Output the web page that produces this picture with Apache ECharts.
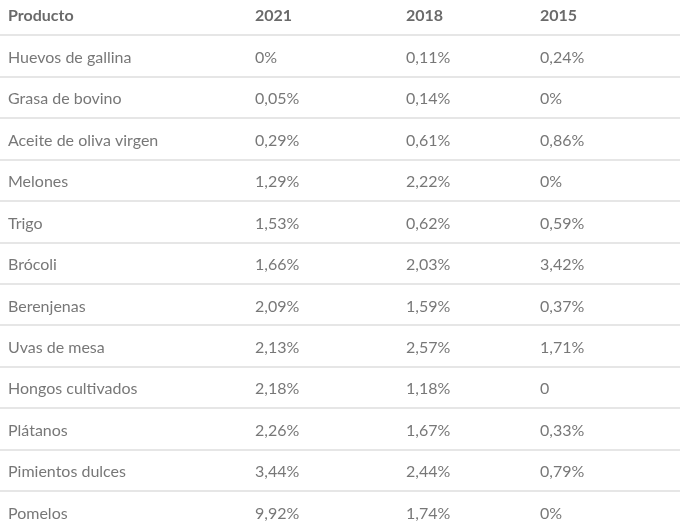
<!DOCTYPE html>
<html><head><meta charset="utf-8">
<script src="https://cdn.jsdelivr.net/npm/echarts@6/dist/echarts.min.js"></script>
<style>html,body{margin:0;padding:0;background:#fff}#c{width:688px;height:524px}</style>
</head><body><div id="c"></div>
<script>
const headers = ["Producto", "2021", "2018", "2015"];
const products = ["Huevos de gallina","Grasa de bovino","Aceite de oliva virgen","Melones","Trigo","Brócoli","Berenjenas","Uvas de mesa","Hongos cultivados","Plátanos","Pimientos dulces","Pomelos"];
const v2021 = ["0%","0,05%","0,29%","1,29%","1,53%","1,66%","2,09%","2,13%","2,18%","2,26%","3,44%","9,92%"];
const v2018 = ["0,11%","0,14%","0,61%","2,22%","0,62%","2,03%","1,59%","2,57%","1,18%","1,67%","2,44%","1,74%"];
const v2015 = ["0,24%","0%","0,86%","0%","0,59%","3,42%","0,37%","1,71%","0","0,33%","0,79%","0%"];

// layout (not data)
const colX = [8, 255, 406, 540];
const rowKeys = ["__header__"].concat(products);
const columns = [products, v2021, v2018, v2015];

const series = columns.map((vals, ci) => ({
  type: 'scatter',
  symbolSize: 0,
  silent: true,
  data: [[colX[ci], "__header__", headers[ci], 1]].concat(
    vals.map((t, ri) => [colX[ci], products[ri], t, 0])
  ),
  label: {
    show: true,
    position: 'inside',
    align: 'left',
    verticalAlign: 'middle',
    offset: [0, 2],
    fontFamily: 'Lato',
    formatter: p => p.data[3] ? '{h|' + p.data[2] + '}' : '{n|' + p.data[2] + '}',
    rich: {
      h: { fontFamily: 'Lato', fontSize: 16, fontWeight: 'bold', color: '#454545' },
      n: { fontFamily: 'Lato', fontSize: 16, color: '#555' }
    }
  }
}));

const chart = echarts.init(document.getElementById('c'), null, {renderer: 'canvas'});
chart.setOption({
  animation: false,
  backgroundColor: '#fff',
  grid: { left: 0, right: 8, top: -6.45, bottom: -8.4, outerBoundsMode: 'none', containLabel: false },
  xAxis: { type: 'value', min: 0, max: 680, show: false },
  yAxis: {
    type: 'category', data: rowKeys, inverse: true, boundaryGap: true,
    axisLine: { show: false }, axisTick: { show: false }, axisLabel: { show: false },
    splitLine: { show: true, lineStyle: { color: '#dedede', width: 1.5 } }
  },
  series: series
});
</script></body></html>
